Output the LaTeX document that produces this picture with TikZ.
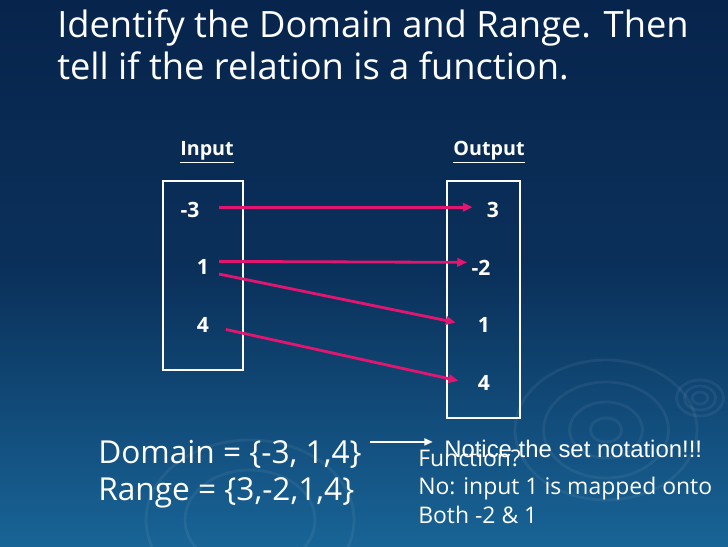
\documentclass[tikz,border=0pt]{standalone}
\usepackage{fontspec}
\setmainfont{Open Sans}
\newfontfamily\arialfont{Liberation Sans}
\usepackage{tikz}
\usetikzlibrary{arrows.meta, positioning, calc}

\definecolor{slidetop}{RGB}{7,36,76}
\definecolor{slidebot}{RGB}{24,100,150}
\definecolor{mappink}{RGB}{226,22,112}

\begin{document}
\begin{tikzpicture}[
    x=0.025cm, y=-0.025cm,
    titletxt/.style={anchor=north west, align=left, text=white, font=\fontsize{25.8}{30}\selectfont, inner sep=0pt},
    headtxt/.style={text=white, font=\fontsize{14}{16}\selectfont\bfseries},
    numtxt/.style={text=white, font=\fontsize{15}{17}\selectfont\bfseries, inner sep=2pt},
    setbox/.style={rectangle, draw=white, line width=2pt},
    settxt/.style={anchor=base west, text=white, font=\fontsize{22.5}{26}\selectfont, inner sep=0pt},
    notetxt/.style={anchor=base west, text=white, font=\fontsize{16.3}{21}\selectfont, inner sep=0pt},
    maparr/.style={-{Triangle[length=7pt,width=6pt]}, line width=2pt, draw=mappink},
    ripple/.style={draw=white, opacity=0.06, line width=2pt}
]
% background
\shade[top color=slidetop, bottom color=slidebot, middle color=slidetop!80!slidebot] (0,0) rectangle (728,546);
\useasboundingbox (0,0) rectangle (728,546);
\foreach \r in {12,28,48,70} \draw[ripple] (606,430) ellipse ({\r*1.3} and \r);
\foreach \r in {6,12,18} \draw[ripple] (700,398) ellipse ({\r*1.3} and \r);
\foreach \r in {50,80} \draw[ripple] (250,520) ellipse ({\r*1.3} and \r);

% title
\node[titletxt] (title) at (57,9) {Identify the Domain and Range. Then\\tell if the relation is a function.};

% headings
\node[headtxt] (inhead) at (207,152) {\underline{Input}};
\node[headtxt] (outhead) at (489,152) {\underline{Output}};

% boxes
\node[setbox, minimum width=2cm, minimum height=4.725cm] (inbox) at (203,275.5) {};
\node[setbox, minimum width=1.825cm, minimum height=5.925cm] (outbox) at (483.5,299.5) {};

% elements
\node[numtxt] (in1) at (190,210) {-3};
\node[numtxt] (in2) at (203,267) {1};
\node[numtxt] (in3) at (203,325) {4};
\node[numtxt] (out1) at (493,210) {3};
\node[numtxt] (out2) at (481,268) {-2};
\node[numtxt] (out3) at (484,325) {1};
\node[numtxt] (out4) at (484,383) {4};

% mapping
\draw[maparr, shorten <=12pt, shorten >=8pt] ([yshift=2pt]in1.east) -- ([yshift=2pt]out1.west);
\draw[maparr, shorten <=5pt, shorten >=1pt] ([yshift=4pt]in2.east) -- ([yshift=4pt]out2.west);
\draw[maparr, shorten <=5pt, shorten >=14pt] ([yshift=-4pt]in2.east) -- ([yshift=-1pt]out3.west);
\draw[maparr, shorten <=10pt, shorten >=12pt] ([yshift=-1pt]in3.east) -- ([yshift=-1pt]out4.west);

% domain and range
\node[settxt] (dom) at (98,463) {Domain = \{-3, 1,4\}};
\node[settxt] (ran) at (98,500) {Range = \{3,-2,1,4\}};
\node[anchor=base west, text=white, font=\arialfont\fontsize{17}{19}\selectfont, inner sep=0pt] (notice) at (444,457) {Notice the set notation!!!};
\draw[-{Triangle[length=6pt,width=5pt]}, draw=white, line width=1.3pt, shorten <=6pt, shorten >=8pt] (dom.east) ++(0,-12) coordinate (arrstart) -- (arrstart -| notice.west);
\node[notetxt] (func) at (418,466) {Function?};
\node[notetxt] (no) at (418,494) {No: input 1 is mapped onto};
\node[notetxt] (both) at (418,523) {Both -2 \& 1};
\end{tikzpicture}
\end{document}
